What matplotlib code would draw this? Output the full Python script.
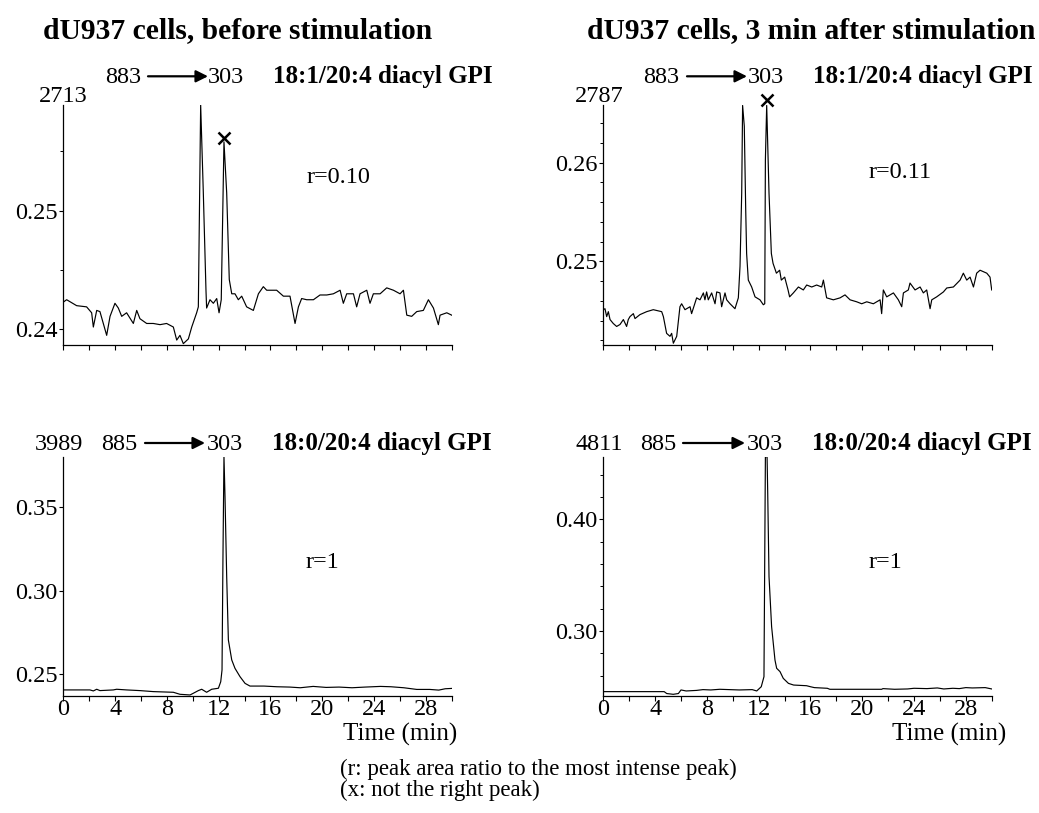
import matplotlib
matplotlib.use('Agg')
import matplotlib.pyplot as plt
from matplotlib.ticker import MultipleLocator, FormatStrFormatter

plt.rcParams['font.family'] = ['Liberation Serif', 'DejaVu Serif']

W, H = 1039, 813

# ---------------- data (time in min, relative intensity) ----------------
tl_time = [0, 0.26, 1.03, 1.80, 2.19, 2.32, 2.58, 2.83, 3.35, 3.61, 3.99, 4.25, 4.51, 4.89,
           5.41, 5.67, 5.92, 6.44, 6.95, 7.47, 7.98, 8.50, 8.76, 9.01, 9.27, 9.66, 9.92,
           10.30, 10.43, 10.61, 10.81, 11.02, 11.07, 11.33, 11.59, 11.85, 12.03, 12.20,
           12.41, 12.62, 12.82, 13.01, 13.26, 13.52, 13.78, 14.16, 14.68, 15.07, 15.45,
           15.71, 16.22, 16.48, 17.00, 17.51, 17.90, 18.16, 18.41, 18.80, 19.32, 19.83,
           20.35, 20.86, 21.38, 21.63, 21.89, 22.41, 22.66, 22.92, 23.44, 23.69, 23.95,
           24.47, 24.98, 25.50, 26.01, 26.27, 26.53, 26.91, 27.30, 27.81, 28.20, 28.59,
           28.97, 29.10, 29.62, 30.0]
tl_value = [0.2423, 0.2425, 0.2420, 0.2419, 0.2414, 0.2402, 0.2416, 0.2415, 0.2395, 0.2411,
            0.2422, 0.2418, 0.2411, 0.2414, 0.2405, 0.2416, 0.2409, 0.2405, 0.2405, 0.2404,
            0.2405, 0.2402, 0.2391, 0.2395, 0.2388, 0.2392, 0.2402, 0.2414, 0.2419, 0.2589,
            0.2517, 0.2433, 0.2418, 0.2425, 0.2422, 0.2426, 0.2414, 0.2425, 0.2558, 0.2515,
            0.2442, 0.2430, 0.2430, 0.2425, 0.2428, 0.2419, 0.2416, 0.2430, 0.2436, 0.2433,
            0.2433, 0.2433, 0.2428, 0.2428, 0.2405, 0.2419, 0.2426, 0.2425, 0.2425, 0.2429,
            0.2429, 0.2430, 0.2433, 0.2422, 0.2430, 0.2430, 0.2419, 0.2430, 0.2433, 0.2422,
            0.2430, 0.2430, 0.2435, 0.2433, 0.2430, 0.2433, 0.2412, 0.2411, 0.2415, 0.2416,
            0.2425, 0.2418, 0.2404, 0.2412, 0.2414, 0.2412]

tr_time = [0, 0.13, 0.26, 0.39, 0.52, 0.77, 1.03, 1.29, 1.55, 1.80, 1.93, 2.06, 2.32, 2.45,
           2.83, 3.35, 3.86, 4.51, 4.64, 4.89, 5.15, 5.28, 5.41, 5.67, 5.92, 6.05, 6.31,
           6.70, 6.82, 7.21, 7.47, 7.73, 7.85, 7.98, 8.11, 8.37, 8.63, 8.76, 9.01, 9.14,
           9.40, 9.53, 9.79, 10.17, 10.43, 10.56, 10.69, 10.76, 10.89, 11.00, 11.07, 11.20,
           11.46, 11.72, 12.10, 12.36, 12.47, 12.52, 12.62, 12.80, 12.98, 13.11, 13.37,
           13.62, 13.75, 14.01, 14.27, 14.39, 14.68, 15.07, 15.45, 15.71, 16.10, 16.48,
           16.87, 17.00, 17.25, 17.77, 18.29, 18.67, 19.06, 19.57, 19.96, 20.35, 20.86,
           21.38, 21.50, 21.63, 21.89, 22.41, 22.79, 23.05, 23.18, 23.56, 23.69, 24.08,
           24.47, 24.72, 24.98, 25.24, 25.37, 25.75, 26.27, 26.53, 27.04, 27.56, 27.81,
           28.07, 28.33, 28.59, 28.84, 29.10, 29.62, 29.87, 30.0]
tr_value = [0.2451, 0.2452, 0.2444, 0.2449, 0.2441, 0.2437, 0.2434, 0.2436, 0.2441, 0.2434,
            0.2441, 0.2444, 0.2447, 0.2442, 0.2446, 0.2449, 0.2451, 0.2449, 0.2444, 0.2427,
            0.2424, 0.2427, 0.2417, 0.2424, 0.2454, 0.2457, 0.2451, 0.2454, 0.2447, 0.2463,
            0.2461, 0.2468, 0.2461, 0.2469, 0.2461, 0.2468, 0.2457, 0.2469, 0.2468, 0.2454,
            0.2468, 0.2461, 0.2457, 0.2452, 0.2463, 0.2495, 0.2569, 0.2658, 0.2637, 0.2552,
            0.2508, 0.2481, 0.2474, 0.2464, 0.2461, 0.2456, 0.2457, 0.2603, 0.2658, 0.2569,
            0.2508, 0.2498, 0.2488, 0.2491, 0.2481, 0.2484, 0.2471, 0.2464, 0.2468, 0.2474,
            0.2471, 0.2476, 0.2474, 0.2476, 0.2474, 0.2481, 0.2463, 0.2461, 0.2463, 0.2466,
            0.2461, 0.2459, 0.2457, 0.2459, 0.2457, 0.2461, 0.2447, 0.2471, 0.2464, 0.2468,
            0.2461, 0.2454, 0.2468, 0.2471, 0.2478, 0.2471, 0.2474, 0.2468, 0.2471, 0.2452,
            0.2461, 0.2464, 0.2469, 0.2473, 0.2474, 0.2481, 0.2488, 0.2481, 0.2484, 0.2474,
            0.2488, 0.2491, 0.2488, 0.2484, 0.2471]

bl_time = [0, 2.06, 2.32, 2.58, 2.83, 3.86, 4.12, 4.89, 5.92, 6.95, 8.50, 9.01, 9.79, 10.04,
           10.43, 10.69, 11.07, 11.46, 11.98, 12.16, 12.26, 12.33, 12.41, 12.49, 12.62,
           12.75, 13.01, 13.26, 13.65, 14.04, 14.42, 15.5, 16.5, 17.5, 18.3, 19.3, 20.3,
           21.3, 22.3, 23.3, 24.5, 25.3, 26.3, 27.3, 28.3, 29.0, 29.5, 30.0]
bl_value = [0.2407, 0.2407, 0.2401, 0.2411, 0.2403, 0.2407, 0.2411, 0.2407, 0.2403, 0.2397,
            0.2393, 0.2381, 0.2377, 0.2387, 0.2403, 0.2411, 0.2393, 0.2411, 0.2417, 0.2456,
            0.2526, 0.3182, 0.3800, 0.3560, 0.3083, 0.2705, 0.2586, 0.2536, 0.2486, 0.2446,
            0.2430, 0.2430, 0.2426, 0.2424, 0.2420, 0.2428, 0.2422, 0.2424, 0.2420, 0.2424,
            0.2428, 0.2426, 0.2420, 0.2410, 0.2410, 0.2406, 0.2414, 0.2416]

br_time = [0, 4.7, 4.9, 5.4, 5.8, 6.0, 6.4, 7.2, 7.7, 8.3, 9.0, 10.5, 11.5, 11.85, 12.2,
           12.41, 12.52, 12.65, 12.70, 12.80, 13.00, 13.26, 13.39, 13.65, 13.90, 14.30,
           14.70, 15.70, 16.00, 16.30, 17.30, 17.50, 20.0, 21.5, 21.6, 22.5, 23.5, 24.0,
           25.0, 25.8, 26.3, 27.0, 27.5, 28.0, 28.5, 29.5, 30.0]
br_value = [0.2457, 0.2457, 0.2440, 0.2433, 0.2440, 0.2472, 0.2463, 0.2468, 0.2475, 0.2472,
            0.2478, 0.2472, 0.2475, 0.2463, 0.2501, 0.2591, 0.4560, 0.4560, 0.4233, 0.3487,
            0.3039, 0.2740, 0.2666, 0.2636, 0.2576, 0.2531, 0.2516, 0.2510, 0.2501, 0.2493,
            0.2487, 0.2478, 0.2478, 0.2478, 0.2484, 0.2478, 0.2481, 0.2487, 0.2484, 0.2490,
            0.2481, 0.2487, 0.2484, 0.2493, 0.2490, 0.2493, 0.2481]

max_counts = ["2713", "2787", "3989", "4811"]
transitions = ["883", "883", "885", "885"]
species = ["18:1/20:4 diacyl GPI", "18:1/20:4 diacyl GPI",
           "18:0/20:4 diacyl GPI", "18:0/20:4 diacyl GPI"]
ratios = ["r=0.10", "r=0.11", "r=1", "r=1"]
titles = ["dU937 cells, before stimulation", "dU937 cells, 3 min after stimulation"]
x_mark_time = [12.41, 12.62]
x_mark_value = [0.2561, 0.2664]

x_ticks = list(range(0, 31, 2))
x_ticklabels = [str(t) if t % 4 == 0 else "" for t in x_ticks]

# ---------------- figure ----------------
fig = plt.figure(figsize=(W / 100, H / 100), dpi=100)

def fx(px):
    return px / W

def fy(py):
    return 1 - py / H

FS = 17.5

# axes geometry (pixel): left, right, top, bottom
geo = [(63.3, 451.7, 105, 345), (603.3, 991.7, 105, 345),
       (63.3, 451.7, 456.7, 696), (603.3, 991.7, 456.7, 696)]
ylims = [(0.238686, 0.258905), (0.241521, 0.265845), (0.23708, 0.3798), (0.24179, 0.45609)]
yticks_major = [[0.24, 0.25], [0.25, 0.26], [0.25, 0.30, 0.35], [0.30, 0.40]]
yminor = [0.005, 0.002, None, 0.02]
series = [(tl_time, tl_value), (tr_time, tr_value), (bl_time, bl_value), (br_time, br_value)]

axes = []
for i in range(4):
    l, r, t, b = geo[i]
    ax = fig.add_axes([fx(l), fy(b), (r - l) / W, (b - t) / H])
    tt, vv = series[i]
    ax.plot(tt, vv, color='black', lw=0.85)
    ax.set_xlim(0, 30)
    ax.set_ylim(*ylims[i])
    for s in ['top', 'right']:
        ax.spines[s].set_visible(False)
    for s in ['left', 'bottom']:
        ax.spines[s].set_linewidth(0.9)
    ax.set_yticks(yticks_major[i])
    ax.yaxis.set_major_formatter(FormatStrFormatter('%.2f'))
    if yminor[i]:
        ax.yaxis.set_minor_locator(MultipleLocator(yminor[i]))
    ax.set_xticks(x_ticks)
    if i >= 2:
        ax.set_xticklabels(x_ticklabels)
    else:
        ax.set_xticklabels([])
    ax.tick_params(axis='y', which='major', direction='out', length=3, width=0.8,
                   labelsize=FS, pad=1)
    ax.tick_params(axis='y', which='minor', direction='out', length=2, width=0.7)
    ax.tick_params(axis='x', which='major', direction='out', length=3.5, width=0.8,
                   labelsize=FS, pad=-1)
    axes.append(ax)

# x markers (not the right peak)
for ax, xt, xv in zip(axes[:2], x_mark_time, x_mark_value):
    ax.plot([xt], [xv], marker='x', ms=8, mew=1.8, color='black', clip_on=False)

# titles
fig.text(fx(238), fy(38), titles[0], ha='center', va='baseline', fontsize=21.3,
         fontweight='bold')
fig.text(fx(587), fy(38), titles[1], ha='left', va='baseline', fontsize=21.3,
         fontweight='bold')

# panel header rows
rows = [
    dict(top=(63, 101.7), tr=(123.5, 83.3), arr=(148, 208), p303=208, sp=273, base=83.3),
    dict(top=(599, 101.7), tr=(661.5, 83.3), arr=(687, 747), p303=748, sp=813, base=83.3),
    dict(top=(58.5, 450), tr=(119.5, 450), arr=(145, 205), p303=207, sp=272, base=450),
    dict(top=(599, 450), tr=(658.5, 450), arr=(683, 745), p303=747, sp=812, base=450),
]
for i, rw in enumerate(rows):
    fig.text(fx(rw['top'][0]), fy(rw['top'][1]), max_counts[i], ha='center',
             va='baseline', fontsize=FS)
    fig.text(fx(rw['tr'][0]), fy(rw['tr'][1]), transitions[i], ha='center',
             va='baseline', fontsize=FS)
    ya = rw['base'] - 7
    fig.add_artist(matplotlib.patches.FancyArrowPatch(
        (fx(rw['arr'][0]), fy(ya)), (fx(rw['arr'][1]), fy(ya)),
        transform=fig.transFigure, arrowstyle='-|>', mutation_scale=18,
        lw=1.6, color='black', shrinkA=0, shrinkB=0))
    fig.text(fx(rw['p303']), fy(rw['base']), "303", ha='left', va='baseline', fontsize=FS)
    fig.text(fx(rw['sp']), fy(rw['base']), species[i], ha='left', va='baseline',
             fontsize=18, fontweight='bold')

# ratio labels
ratio_pos = [(338.5, 183.3), (900, 178.3), (322, 568.3), (885, 568.3)]
for (px, py), txt in zip(ratio_pos, ratios):
    fig.text(fx(px), fy(py), txt, ha='center', va='baseline', fontsize=FS)

# axis titles
fig.text(fx(400), fy(741), "Time (min)", ha='center', va='baseline', fontsize=18)
fig.text(fx(949.5), fy(741), "Time (min)", ha='center', va='baseline', fontsize=18)

# footnotes
fig.text(fx(340), fy(775), "(r: peak area ratio to the most intense peak)", ha='left',
         va='baseline', fontsize=16.5)
fig.text(fx(340), fy(796), "(x: not the right peak)", ha='left', va='baseline',
         fontsize=16.5)

fig.savefig('out.png', dpi=100)
